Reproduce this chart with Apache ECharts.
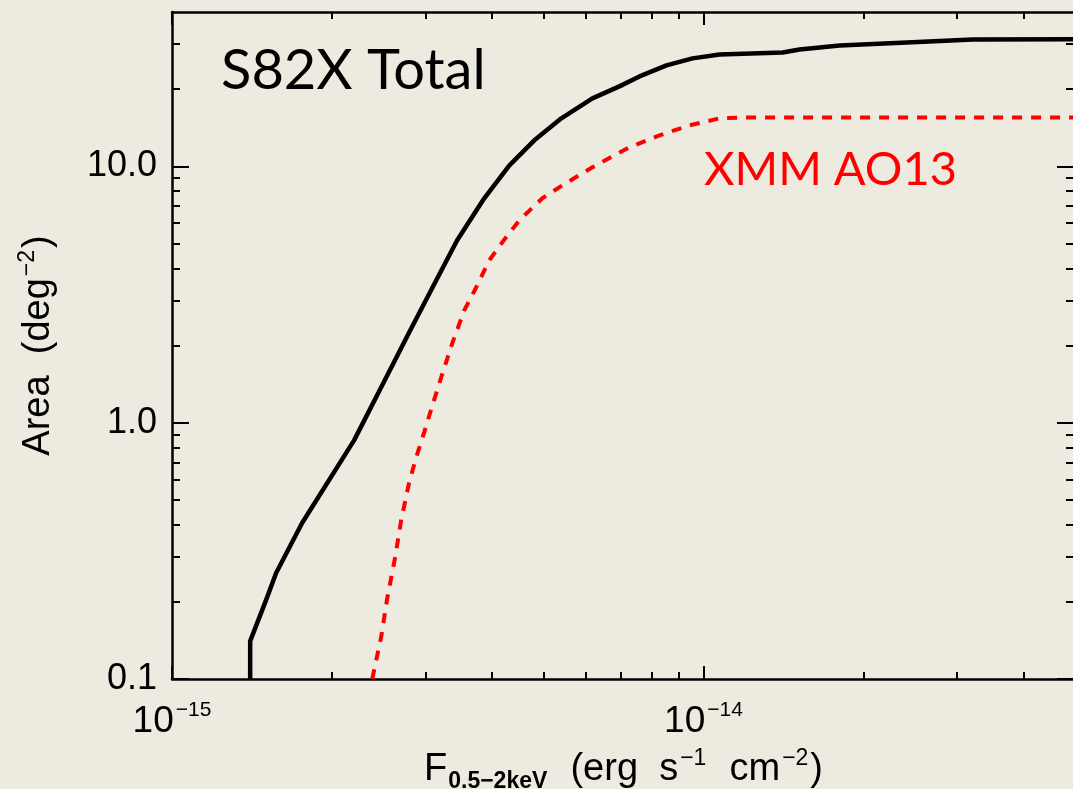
<!DOCTYPE html>
<html>
<head>
<meta charset="utf-8">
<script src="https://cdn.jsdelivr.net/npm/echarts@6/dist/echarts.min.js"></script>
<style>
  html, body { margin: 0; padding: 0; background: #EDEAE0; }
  #chart { width: 1073px; height: 789px; }
</style>
</head>
<body>
<div id="chart"></div>
<script>
// Survey area versus limiting flux (0.5-2 keV)
const totalFlux = [1.403e-15, 1.403e-15, 1.503e-15, 1.570e-15, 1.757e-15, 2.202e-15,
  2.486e-15, 2.795e-15, 3.142e-15, 3.440e-15, 3.868e-15, 4.313e-15, 4.805e-15, 5.402e-15,
  6.180e-15, 6.946e-15, 7.578e-15, 8.519e-15, 9.535e-15, 1.072e-14, 1.409e-14, 1.516e-14,
  1.804e-14, 2.412e-14, 3.211e-14, 5.0e-14];
const totalArea = [0.1, 0.1406, 0.203, 0.259, 0.406, 0.855,
  1.40, 2.253, 3.594, 5.146, 7.505, 10.09, 12.63, 15.39,
  18.41, 20.51, 22.43, 24.76, 26.37, 27.33, 27.82, 28.58,
  29.63, 30.44, 31.27, 31.3];

const xmmFlux = [2.381e-15, 2.475e-15, 2.541e-15, 2.630e-15, 2.699e-15, 2.795e-15, 2.881e-15,
  2.983e-15, 3.074e-15, 3.211e-15, 3.368e-15, 3.548e-15, 3.737e-15, 3.954e-15, 4.182e-15, 4.503e-15,
  4.975e-15, 5.426e-15, 6.180e-15, 7.254e-15, 8.264e-15, 9.410e-15, 1.072e-14, 1.169e-14, 5.0e-14];
const xmmArea = [0.1, 0.1459, 0.207, 0.299, 0.417, 0.586, 0.734,
  0.918, 1.129, 1.504, 2.042, 2.746, 3.376, 4.300, 5.053, 6.158,
  7.505, 8.432, 9.911, 11.86, 13.21, 14.45, 15.39, 15.5, 15.5];

const xMajorTicks = [1e-15, 1e-14];
const xMinorTicks = [2e-15, 3e-15, 4e-15, 5e-15, 6e-15, 7e-15, 8e-15, 9e-15, 2e-14, 3e-14, 4e-14];
const yMajorTicks = [0.1, 1, 10];
const yMinorTicks = [0.2, 0.3, 0.4, 0.5, 0.6, 0.7, 0.8, 0.9, 2, 3, 4, 5, 6, 7, 8, 9, 20, 30];

const X_MIN = 1e-15, X_MAX = 5e-14, Y_MIN = 0.1, Y_MAX = 40;
const INK = '#000000';
const AXIS_FONT = 'Liberation Sans';

const pair = (xs, ys) => xs.map((x, i) => [x, ys[i]]);

function xAxisDef(position, ticks, len, withLine, withLabels) {
  return {
    type: 'log', logBase: 10, min: X_MIN, max: X_MAX, position: position,
    axisLine: { show: withLine, onZero: false, lineStyle: { color: INK, width: 2.5 } },
    axisTick: { show: true, inside: true, length: len, customValues: ticks,
      lineStyle: { color: INK, width: 2 } },
    axisLabel: withLabels ? {
      show: true, customValues: xMajorTicks, margin: 21,
      formatter: v => '{b|10}{s|\u2212' + Math.round(-Math.log10(v)) + '}',
      rich: {
        b: { fontFamily: AXIS_FONT, fontSize: 37, color: INK, lineHeight: 40, verticalAlign: 'bottom' },
        s: { fontFamily: AXIS_FONT, fontSize: 21, color: INK, lineHeight: 40, verticalAlign: 'top', padding: [0, 0, 0, 2] }
      }
    } : { show: false },
    splitLine: { show: false }
  };
}

function yAxisDef(position, ticks, len, withLine, withLabels) {
  return {
    type: 'log', logBase: 10, min: Y_MIN, max: Y_MAX, position: position,
    axisLine: { show: withLine, onZero: false, lineStyle: { color: INK, width: 2.5 } },
    axisTick: { show: true, inside: true, length: len, customValues: ticks,
      lineStyle: { color: INK, width: 2 } },
    axisLabel: withLabels ? {
      show: true, customValues: yMajorTicks, margin: 15,
      fontFamily: AXIS_FONT, fontSize: 36, color: INK,
      formatter: v => v.toFixed(1)
    } : { show: false },
    splitLine: { show: false }
  };
}

const xBottom = xAxisDef('bottom', xMajorTicks, 13, true, true);
xBottom.name = '{m|F}{sub|0.5\u22122keV}{m|  (erg  s}{sup|\u22121}{m|  cm}{sup|\u22122}{m|)}';
xBottom.nameLocation = 'middle';
xBottom.nameGap = 68;
xBottom.nameTextStyle = {
  rich: {
    m: { fontFamily: AXIS_FONT, fontSize: 38, color: INK, lineHeight: 46, verticalAlign: 'middle' },
    sub: { fontFamily: AXIS_FONT, fontSize: 23, fontWeight: 'bold', color: INK, lineHeight: 46, verticalAlign: 'bottom', padding: [0, 2, 0, 1] },
    sup: { fontFamily: AXIS_FONT, fontSize: 23, color: INK, lineHeight: 46, verticalAlign: 'top', padding: [0, 2, 0, 2] }
  }
};

const yLeft = yAxisDef('left', yMajorTicks, 17, true, true);
yLeft.name = '{m|Area  (deg}{sup|\u22122}{m|)}';
yLeft.nameLocation = 'middle';
yLeft.nameGap = 110;
yLeft.nameRotate = 90;
yLeft.nameTextStyle = {
  rich: {
    m: { fontFamily: AXIS_FONT, fontSize: 38, color: INK, lineHeight: 46, verticalAlign: 'middle' },
    sup: { fontFamily: AXIS_FONT, fontSize: 23, color: INK, lineHeight: 46, verticalAlign: 'top', padding: [0, 2, 0, 2] }
  }
};

const option = {
  backgroundColor: '#EDEAE0',
  animation: false,
  grid: { left: 172, top: 12, right: -2, bottom: 110, containLabel: false, outerBoundsMode: 'none' },
  xAxis: [
    xBottom,
    xAxisDef('bottom', xMinorTicks, 7, false, false),
    xAxisDef('top', xMajorTicks, 13, true, false),
    xAxisDef('top', xMinorTicks, 7, false, false)
  ],
  yAxis: [
    yLeft,
    yAxisDef('left', yMinorTicks, 8, false, false),
    yAxisDef('right', yMajorTicks, 18, true, false),
    yAxisDef('right', yMinorTicks, 9, false, false)
  ],
  graphic: [
    { type: 'text', left: 221, top: 43, z: 100,
      style: { text: 'S82X Total', font: '56px Lato', fill: INK } },
    { type: 'text', left: 704, top: 146, z: 100,
      style: { text: 'XMM AO13', font: '47px Lato', fill: '#FF0000' } }
  ],
  series: [
    {
      name: 'S82X Total', type: 'line', xAxisIndex: 0, yAxisIndex: 0,
      data: pair(totalFlux, totalArea), showSymbol: false, clip: true,
      lineStyle: { color: INK, width: 4.5, join: 'round' }, z: 5
    },
    {
      name: 'XMM AO13', type: 'line', xAxisIndex: 0, yAxisIndex: 0,
      data: pair(xmmFlux, xmmArea), showSymbol: false, clip: true,
      lineStyle: { color: '#FF0000', width: 4, type: [10, 9], cap: 'butt' }, z: 4
    }
  ]
};

const chart = echarts.init(document.getElementById('chart'), null, { renderer: 'canvas' });
chart.setOption(option);
</script>
</body>
</html>
